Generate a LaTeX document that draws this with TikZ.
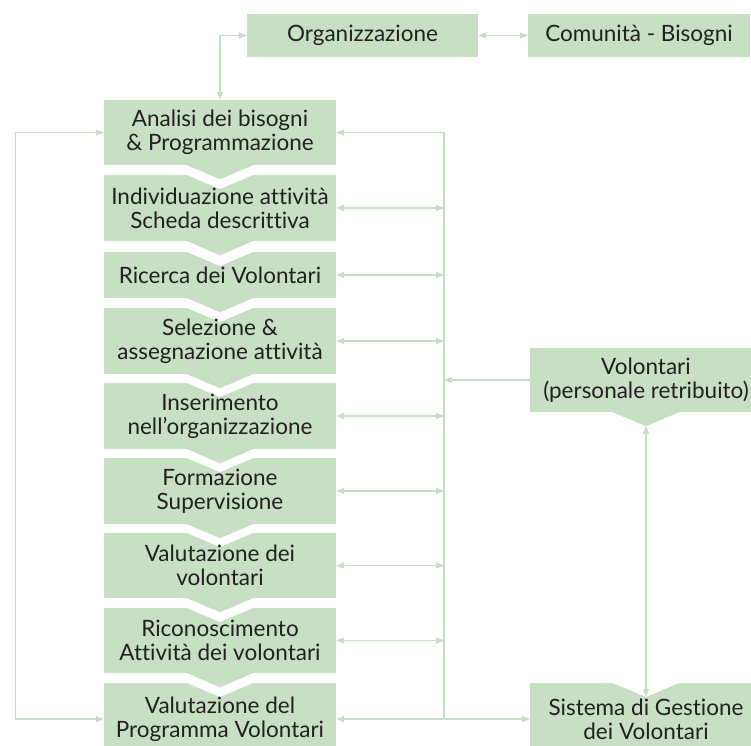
\documentclass[tikz,border=0pt]{standalone}
\usepackage{fontspec}
\setmainfont{Lato}[Ligatures=NoCommon]
\usetikzlibrary{arrows.meta}
\definecolor{boxgreen}{RGB}{199,224,196}
\definecolor{linkgreen}{RGB}{196,224,196}
\definecolor{inkgray}{RGB}{35,31,32}

\begin{document}
\begin{tikzpicture}[x=1pt,y=-1pt,
    stepbox/.style={fill=boxgreen,text=inkgray,inner sep=0pt,minimum width=232pt,minimum height=66pt,align=center,font=\fontsize{22.5}{24}\selectfont},
    notched/.style={path picture={\fill[white] ([xshift=-33pt]path picture bounding box.north) -- ([yshift=-14pt]path picture bounding box.north) -- ([xshift=33pt]path picture bounding box.north) -- cycle;}},
    link/.style={linkgreen,line width=1.2pt,>={Triangle[length=8pt,width=6pt]}}]
    \clip (0,0) rectangle (751,745);
    % top row
    \node[stepbox,minimum width=231pt,minimum height=43pt] (org) at (362.5,35.5) {Organizzazione};
    \node[stepbox,minimum width=222pt,minimum height=43pt] (com) at (639,35.5) {Comunità - Bisogni};
    % left column
    \node[stepbox,minimum height=65pt] (ana) at (220,132.5) {Analisi dei bisogni\\\& Programmazione};
    \node[stepbox,notched] (ind) at (220,208) {Individuazione attività\\Scheda descrittiva};
    \node[stepbox,notched,minimum height=46pt] (ric) at (220,275) {Ricerca dei Volontari};
    \node[stepbox,notched] (sel) at (220,341) {Selezione \&\\assegnazione attività};
    \node[stepbox,notched] (ins) at (220,416) {Inserimento\\nell’organizzazione};
    \node[stepbox,notched] (form) at (220,491) {Formazione\\Supervisione};
    \node[stepbox,notched,minimum height=65pt] (val) at (220,565.5) {Valutazione dei\\volontari};
    \node[stepbox,notched,minimum height=65pt] (rico) at (220,640.5) {Riconoscimento\\Attività dei volontari};
    \node[stepbox,notched,minimum height=72pt] (prog) at (220,719) {Valutazione del\\Programma Volontari};
    % right column
    \node[stepbox,minimum height=64pt] (vol) at (646,380) {Volontari\\(personale retribuito)};
    \node[stepbox,notched,minimum height=72pt] (sis) at (646,719) {Sistema di Gestione\\dei Volontari};
    % chevrons
    \foreach \n in {ana,ind,ric,sel,ins,form,val,rico,vol}
        \fill[boxgreen] ([xshift=-33pt]\n.south) -- ([yshift=-14pt]\n.south) -- ([xshift=33pt]\n.south) -- cycle;

    \coordinate (bustop) at (444,132.5);
    \coordinate (busbot) at (444,719);
    \draw[link,<->] (org) -- (com);
    \draw[link,<->] (org.west) -| (ana.north);
    \draw[link,<->] (prog.west) -- ++(-88,0) |- (ana.west);
    \draw[link,->] (busbot) -- (bustop) -- (ana.east);
    \draw[link,<->] (prog.east) -- (sis.west);
    \foreach \n in {ind,ric,sel,ins,form,val,rico}
        \draw[link,<->] (\n.east) -- (\n.east -| bustop);
    \draw[link,->] (vol.west) -- (vol.west -| bustop);
    \draw[link,<->] ([yshift=-14pt]vol.south) -- ([yshift=-14pt]sis.north);
\end{tikzpicture}
\end{document}
